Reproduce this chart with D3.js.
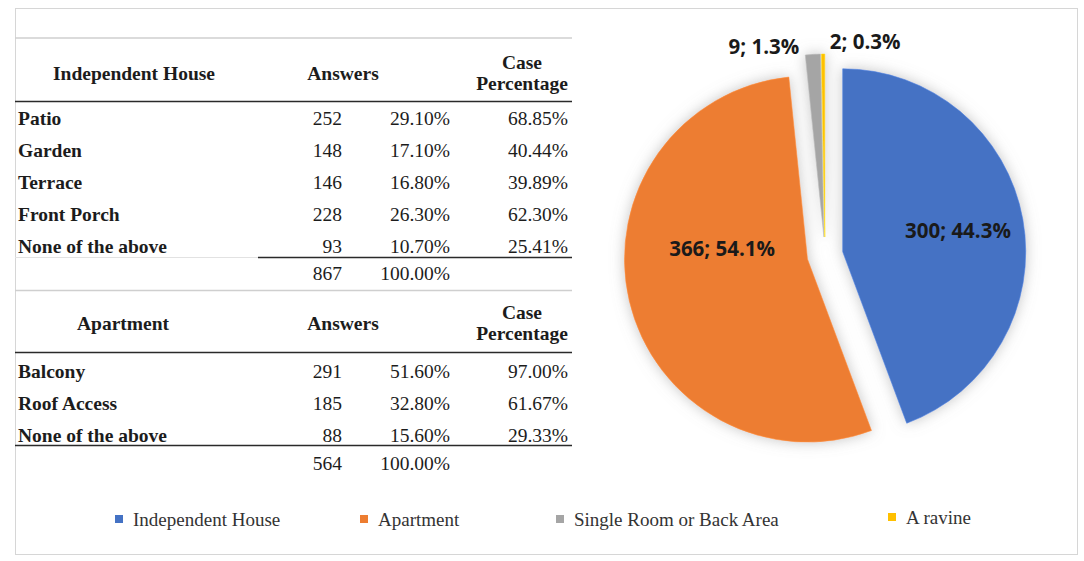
<!DOCTYPE html>
<html>
<head>
<meta charset="utf-8">
<script src="https://cdn.jsdelivr.net/npm/d3@7"></script>
<style>
  body { margin: 0; background: #fff; }
  .cell { font-family: "Liberation Serif", "Times New Roman", serif; font-size: 19.5px; fill: #1c1c1c; }
  .bold { font-weight: bold; }
  .pie-label { font-family: "Open Sans", sans-serif; font-weight: bold; font-size: 20.5px; fill: #1a1a1a; }
  .legend { font-family: "Liberation Serif", serif; font-size: 19px; fill: #333; }
</style>
</head>
<body>
<div id="wrapper"></div>
<script>
// Table data
const houseItems = ["Patio", "Garden", "Terrace", "Front Porch", "None of the above"]
const houseAnswers = [252, 148, 146, 228, 93]
const housePercent = [29.10, 17.10, 16.80, 26.30, 10.70]
const houseCase = [68.85, 40.44, 39.89, 62.30, 25.41]
const houseTotal = 867

const aptItems = ["Balcony", "Roof Access", "None of the above"]
const aptAnswers = [291, 185, 88]
const aptPercent = [51.60, 32.80, 15.60]
const aptCase = [97.00, 61.67, 29.33]
const aptTotal = 564

// Pie data
const pieCategories = ["Independent House", "Apartment", "Single Room or Back Area", "A ravine"]
const pieValues = [300, 366, 9, 2]
const piePercent = [44.3, 54.1, 1.3, 0.3]
const pieColors = ["#4472C4", "#ED7D31", "#A5A5A5", "#FFC000"]

function drawChart() {
  const width = 1084
  const height = 561

  const svg = d3.select("#wrapper").append("svg")
      .attr("width", width)
      .attr("height", height)

  // image frame
  svg.append("rect")
      .attr("x", 15.5).attr("y", 8.5)
      .attr("width", 1062).attr("height", 546)
      .attr("fill", "none")
      .attr("stroke", "#d6d6d6")

  const fmt = d3.format(".2f")
  const col = { label: 18, answers: 342, pct: 450, cases: 568, left: 15, right: 572 }

  const hline = (y, x1, x2, color, w) => svg.append("line")
      .attr("x1", x1).attr("x2", x2).attr("y1", y).attr("y2", y)
      .attr("stroke", color).attr("stroke-width", w)

  function drawSection(items, answers, pct, cases, total, o) {
    // header
    svg.append("text").attr("class", "cell bold")
        .attr("x", o.titleX).attr("y", o.headY).attr("dy", "0.35em")
        .text(o.title)
    svg.append("text").attr("class", "cell bold")
        .attr("x", 343).attr("y", o.headY).attr("dy", "0.35em")
        .attr("text-anchor", "middle").text("Answers")
    svg.append("text").attr("class", "cell bold")
        .attr("x", 522).attr("y", o.headY - 11).attr("dy", "0.35em")
        .attr("text-anchor", "middle").text("Case")
    svg.append("text").attr("class", "cell bold")
        .attr("x", 522).attr("y", o.headY + 10).attr("dy", "0.35em")
        .attr("text-anchor", "middle").text("Percentage")

    const yScale = d3.scaleLinear()
      .domain([0, items.length - 1])
      .range(o.rowRange)

    const rows = svg.append("g").selectAll("g")
      .data(items)
      .join("g")
        .attr("transform", (d, i) => `translate(0, ${yScale(i)})`)

    rows.append("text").attr("class", "cell bold")
        .attr("x", col.label).attr("dy", "0.35em")
        .text(d => d)
    rows.append("text").attr("class", "cell")
        .attr("x", col.answers).attr("dy", "0.35em").attr("text-anchor", "end")
        .text((d, i) => answers[i])
    rows.append("text").attr("class", "cell")
        .attr("x", col.pct).attr("dy", "0.35em").attr("text-anchor", "end")
        .text((d, i) => fmt(pct[i]) + "%")
    rows.append("text").attr("class", "cell")
        .attr("x", col.cases).attr("dy", "0.35em").attr("text-anchor", "end")
        .text((d, i) => fmt(cases[i]) + "%")

    // total row
    svg.append("text").attr("class", "cell")
        .attr("x", col.answers).attr("y", o.totalY).attr("dy", "0.35em")
        .attr("text-anchor", "end").text(total)
    svg.append("text").attr("class", "cell")
        .attr("x", col.pct).attr("y", o.totalY).attr("dy", "0.35em")
        .attr("text-anchor", "end").text(fmt(100) + "%")
  }

  hline(38, col.left, col.right, "#cfcfcf", 1.5)
  hline(101.5, col.left, col.right, "#2a2a2a", 1.6)
  drawSection(houseItems, houseAnswers, housePercent, houseCase, houseTotal, {
    title: "Independent House", titleX: 53, headY: 73, rowRange: [118, 246], totalY: 273
  })
  hline(257.5, col.left, 258, "#e2e2e2", 1)
  hline(257.5, 258, col.right, "#2a2a2a", 1.6)
  hline(290.5, col.left, col.right, "#cfcfcf", 1.5)

  hline(352.5, col.left, col.right, "#2a2a2a", 1.6)
  drawSection(aptItems, aptAnswers, aptPercent, aptCase, aptTotal, {
    title: "Apartment", titleX: 77, headY: 323, rowRange: [371, 435], totalY: 463
  })
  hline(445.5, col.left, col.right, "#2a2a2a", 1.6)

  // Pie
  const center = { x: 825, y: 255 }
  const radius = 183
  const explode = 18

  const defs = svg.append("defs")
  const filter = defs.append("filter").attr("id", "glow")
      .attr("x", "-20%").attr("y", "-20%").attr("width", "140%").attr("height", "140%")
  filter.append("feDropShadow")
      .attr("dx", 0).attr("dy", 0).attr("stdDeviation", 7)
      .attr("flood-color", "#8a8a8a").attr("flood-opacity", 0.5)

  const pie = d3.pie().sort(null).value(d => d)
  const arcs = pie(pieValues)
  const arc = d3.arc().innerRadius(0).outerRadius(radius)

  const mid = d => (d.startAngle + d.endAngle) / 2
  const vertex = d => ({
    x: center.x + explode * Math.sin(mid(d)),
    y: center.y - explode * Math.cos(mid(d)),
  })

  const pieG = svg.append("g").attr("filter", "url(#glow)")
  pieG.selectAll("path")
    .data(arcs)
    .join("path")
      .attr("transform", d => `translate(${vertex(d).x}, ${vertex(d).y})`)
      .attr("d", arc)
      .attr("fill", (d, i) => pieColors[i])
      .attr("stroke", (d, i) => d3.color(pieColors[i]).brighter(0.4))
      .attr("stroke-width", 0.6)

  const labelText = i => `${pieValues[i]}; ${piePercent[i]}%`
  const polar = (d, a, r) => ({
    x: vertex(d).x + r * Math.sin(a),
    y: vertex(d).y - r * Math.cos(a),
  })

  // inside labels
  const inside = [
    { i: 0, p: polar(arcs[0], mid(arcs[0]), radius * 0.64) },
    { i: 1, p: polar(arcs[1], mid(arcs[1]) + 0.35, radius * 0.47) },
  ]
  svg.append("g").selectAll("text")
    .data(inside)
    .join("text")
      .attr("class", "pie-label")
      .attr("x", d => d.p.x).attr("y", d => d.p.y)
      .attr("dy", "0.35em").attr("text-anchor", "middle")
      .text(d => labelText(d.i))

  // outside labels for the thin slices
  const grayTop = polar(arcs[2], arcs[2].startAngle, radius)
  svg.append("text").attr("class", "pie-label")
      .attr("x", grayTop.x - 6).attr("y", grayTop.y - 8)
      .attr("dy", "0.35em").attr("text-anchor", "end")
      .text(labelText(2))
  const yellowTop = polar(arcs[3], arcs[3].endAngle, radius)
  svg.append("text").attr("class", "pie-label")
      .attr("x", yellowTop.x + 5).attr("y", yellowTop.y - 12)
      .attr("dy", "0.35em").attr("text-anchor", "start")
      .text(labelText(3))

  // Legend
  const legendX = [115, 360, 556, 888]
  const legendY = [519, 519, 519, 517]
  const legend = svg.append("g").selectAll("g")
    .data(pieCategories)
    .join("g")
      .attr("transform", (d, i) => `translate(${legendX[i]}, ${legendY[i]})`)
  legend.append("rect")
      .attr("x", 0).attr("y", -4).attr("width", 8).attr("height", 8)
      .attr("fill", (d, i) => pieColors[i])
  legend.append("text")
      .attr("class", "legend")
      .attr("x", 18).attr("dy", "0.35em")
      .text(d => d)
}
drawChart()
</script>
</body>
</html>
